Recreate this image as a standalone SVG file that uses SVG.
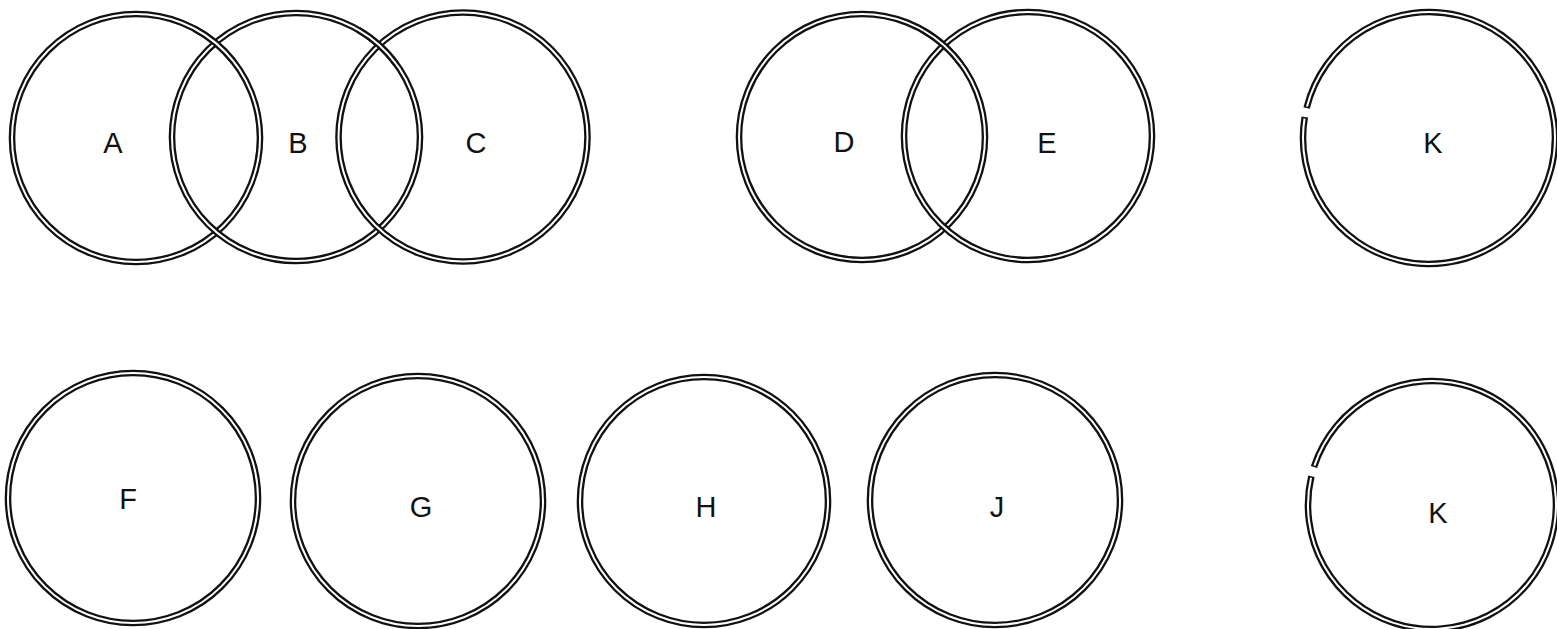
<svg xmlns="http://www.w3.org/2000/svg" width="1557" height="629" viewBox="0 0 1557 629">
<style>
.o{fill:none;stroke:#111;stroke-width:6.6}
.i{fill:none;stroke:#fff;stroke-width:2}
.t{font-family:"Liberation Sans",Arial,sans-serif;font-size:29px;fill:#111;text-anchor:middle}
</style>
<rect width="1557" height="629" fill="#fff"/>
<g id="ringA"><circle class="o" cx="136" cy="138" r="124"/><circle class="i" cx="136" cy="138" r="124"/><text class="t" x="113" y="153">A</text></g>
<g id="ringB"><circle class="o" cx="296" cy="137" r="124"/><circle class="i" cx="296" cy="137" r="124"/><text class="t" x="298" y="153">B</text></g>
<g id="ringA-over"><path class="o" d="M194.2,28.5 A124,124 0 0 1 233.7,61.7"/><path class="i" d="M194.2,28.5 A124,124 0 0 1 233.7,61.7"/></g>
<g id="ringC"><circle class="o" cx="463" cy="137" r="124.5"/><circle class="i" cx="463" cy="137" r="124.5"/><text class="t" x="476" y="153">C</text></g>
<g id="ringB-over"><path class="o" d="M358,29.6 A124,124 0 0 1 396.3,64.1"/><path class="i" d="M358,29.6 A124,124 0 0 1 396.3,64.1"/></g>
<g id="ringD"><circle class="o" cx="862" cy="137" r="123"/><circle class="i" cx="862" cy="137" r="123"/><text class="t" x="844" y="152">D</text></g>
<g id="ringE"><circle class="o" cx="1028" cy="136" r="124"/><circle class="i" cx="1028" cy="136" r="124"/><text class="t" x="1047" y="153">E</text></g>
<g id="ringD-over"><path class="o" d="M923.5,30.5 A123,123 0 0 1 961.5,64.7"/><path class="i" d="M923.5,30.5 A123,123 0 0 1 961.5,64.7"/></g>
<g id="ringK1"><circle class="o" cx="1429" cy="138" r="126" pathLength="360" stroke-dasharray="355.8 4.2" transform="rotate(193.8 1429 138)"/><circle class="i" cx="1429" cy="138" r="126" pathLength="360" stroke-dasharray="354.4 5.6" transform="rotate(194.5 1429 138)"/><text class="t" x="1433" y="153">K</text></g>
<g id="ringF"><circle class="o" cx="133" cy="498" r="125"/><circle class="i" cx="133" cy="498" r="125"/><text class="t" x="128" y="509">F</text></g>
<g id="ringG"><circle class="o" cx="418" cy="501" r="125"/><circle class="i" cx="418" cy="501" r="125"/><text class="t" x="421" y="517">G</text></g>
<g id="ringH"><circle class="o" cx="704" cy="501" r="124"/><circle class="i" cx="704" cy="501" r="124"/><text class="t" x="706" y="517">H</text></g>
<g id="ringJ"><circle class="o" cx="995" cy="500" r="125"/><circle class="i" cx="995" cy="500" r="125"/><text class="t" x="997" y="517">J</text></g>
<g id="ringK2"><circle class="o" cx="1432" cy="505" r="124" pathLength="360" stroke-dasharray="355.6 4.4" transform="rotate(197.8 1432 505)"/><circle class="i" cx="1432" cy="505" r="124" pathLength="360" stroke-dasharray="354.2 5.8" transform="rotate(198.5 1432 505)"/><text class="t" x="1438" y="523">K</text></g>
<g id="connectors"/>
</svg>
